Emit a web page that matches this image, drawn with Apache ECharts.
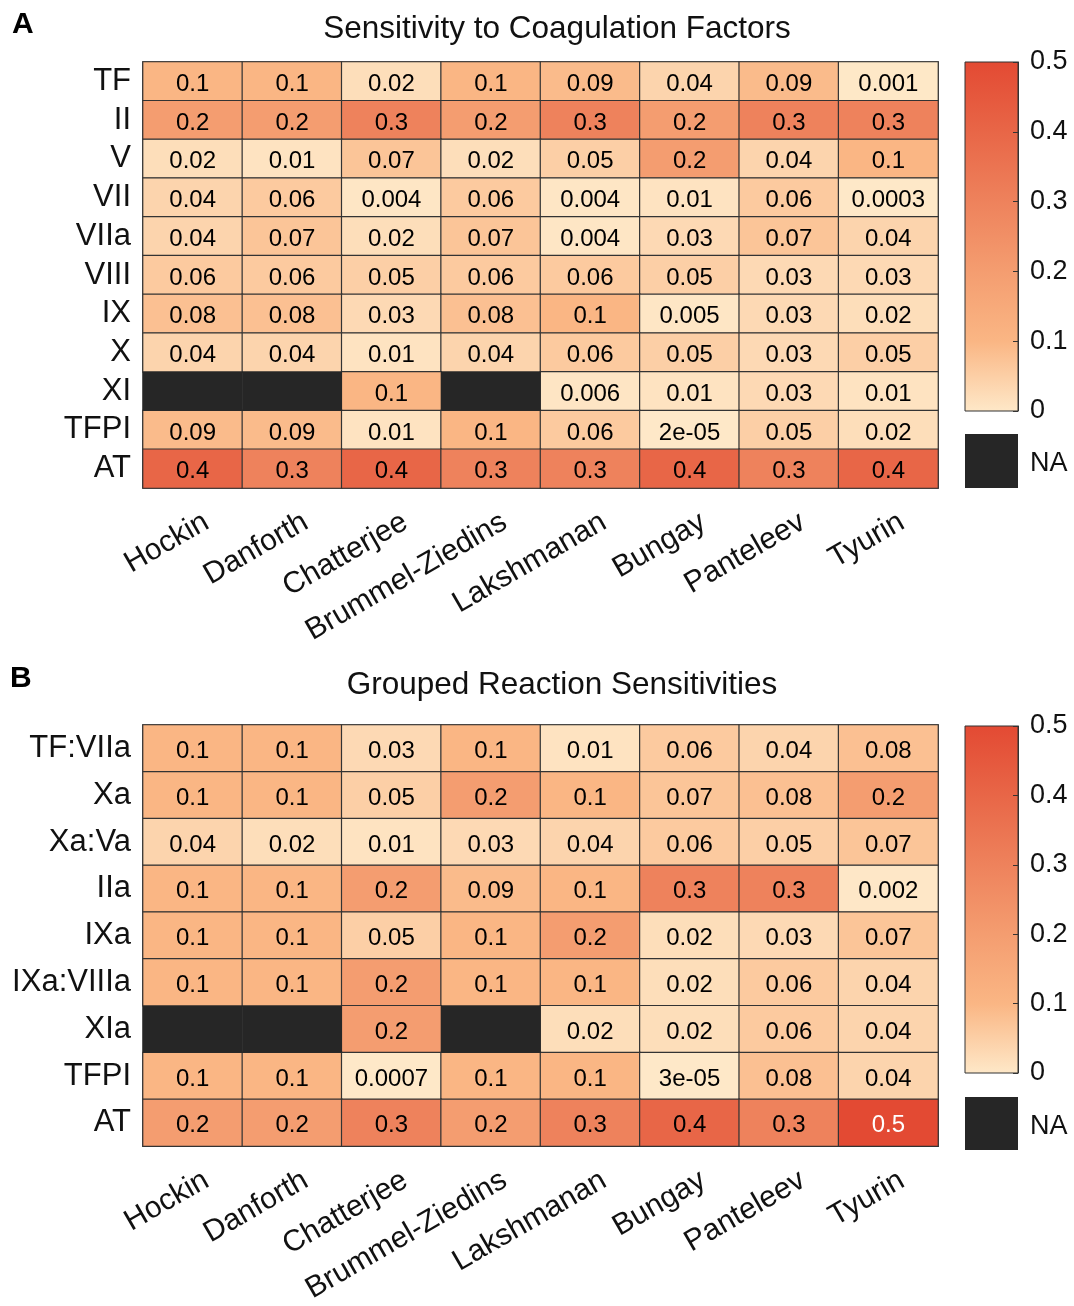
<!DOCTYPE html>
<html>
<head>
<meta charset="utf-8">
<script src="https://cdn.jsdelivr.net/npm/echarts@6/dist/echarts.min.js"></script>
<style>
html,body{margin:0;padding:0;background:#fff;}
#chart{width:1074px;height:1306px;}
</style>
</head>
<body>
<div id="chart"></div>
<script>
// ---------- data ----------
const models = ['Hockin','Danforth','Chatterjee','Brummel-Ziedins','Lakshmanan','Bungay','Panteleev','Tyurin'];

const factorsA = ['TF','II','V','VII','VIIa','VIII','IX','X','XI','TFPI','AT'];
const rowTF   = [0.1, 0.1, 0.02, 0.1, 0.09, 0.04, 0.09, 0.001];
const rowII   = [0.2, 0.2, 0.3, 0.2, 0.3, 0.2, 0.3, 0.3];
const rowV    = [0.02, 0.01, 0.07, 0.02, 0.05, 0.2, 0.04, 0.1];
const rowVII  = [0.04, 0.06, 0.004, 0.06, 0.004, 0.01, 0.06, 0.0003];
const rowVIIa = [0.04, 0.07, 0.02, 0.07, 0.004, 0.03, 0.07, 0.04];
const rowVIII = [0.06, 0.06, 0.05, 0.06, 0.06, 0.05, 0.03, 0.03];
const rowIX   = [0.08, 0.08, 0.03, 0.08, 0.1, 0.005, 0.03, 0.02];
const rowX    = [0.04, 0.04, 0.01, 0.04, 0.06, 0.05, 0.03, 0.05];
const rowXI   = [null, null, 0.1, null, 0.006, 0.01, 0.03, 0.01];
const rowTFPIa= [0.09, 0.09, 0.01, 0.1, 0.06, 2e-5, 0.05, 0.02];
const rowATa  = [0.4, 0.3, 0.4, 0.3, 0.3, 0.4, 0.3, 0.4];
const valuesA = [rowTF,rowII,rowV,rowVII,rowVIIa,rowVIII,rowIX,rowX,rowXI,rowTFPIa,rowATa];

const groupsB = ['TF:VIIa','Xa','Xa:Va','IIa','IXa','IXa:VIIIa','XIa','TFPI','AT'];
const rowTFVIIa = [0.1, 0.1, 0.03, 0.1, 0.01, 0.06, 0.04, 0.08];
const rowXa     = [0.1, 0.1, 0.05, 0.2, 0.1, 0.07, 0.08, 0.2];
const rowXaVa   = [0.04, 0.02, 0.01, 0.03, 0.04, 0.06, 0.05, 0.07];
const rowIIa    = [0.1, 0.1, 0.2, 0.09, 0.1, 0.3, 0.3, 0.002];
const rowIXa    = [0.1, 0.1, 0.05, 0.1, 0.2, 0.02, 0.03, 0.07];
const rowIXaVIIIa=[0.1, 0.1, 0.2, 0.1, 0.1, 0.02, 0.06, 0.04];
const rowXIa    = [null, null, 0.2, null, 0.02, 0.02, 0.06, 0.04];
const rowTFPIb  = [0.1, 0.1, 0.0007, 0.1, 0.1, 3e-5, 0.08, 0.04];
const rowATb    = [0.2, 0.2, 0.3, 0.2, 0.3, 0.4, 0.3, 0.5];
const valuesB = [rowTFVIIa,rowXa,rowXaVa,rowIIa,rowIXa,rowIXaVIIIa,rowXIa,rowTFPIb,rowATb];

const colorbarTicks = [0, 0.1, 0.2, 0.3, 0.4, 0.5];

// ---------- helpers ----------
const cmap = ['#fee8c8','#fab684','#f49d70','#ee825c','#e86647','#e34a33'];
const FONT = '"Liberation Sans", Arial, Helvetica, sans-serif';

function fmt(v){
  if (v < 1e-4) return v.toExponential(0).replace(/e-(\d)$/, 'e-0$1');
  return v.toPrecision(1);
}
function build(values){
  const vals = [], na = [];
  values.forEach((row, r) => row.forEach((v, c) => {
    if (v === null) na.push([c, r, 0]);
    else vals.push({value:[c, r, v], label:{color: v >= 0.45 ? '#ffffff' : '#000000'}});
  }));
  return {vals, na};
}
const A = build(valuesA), B = build(valuesB);

const gridA = {left:143, top:62, width:795, height:426};
const gridB = {left:143, top:725, width:795, height:425};
const cbA = {left:965, top:62, width:53, height:349};
const cbB = {left:965, top:726, width:53, height:347};

const gradient = {type:'linear', x:0, y:1, x2:0, y2:0,
  colorStops: cmap.map((c,i)=>({offset:i/(cmap.length-1), color:c}))};

function xCat(gridIndex){
  return {type:'category', gridIndex, data:models, position:'bottom',
    axisLine:{show:false}, axisTick:{show:false}, splitLine:{show:false},
    axisLabel:{rotate:30, fontSize:30, fontFamily:FONT, color:'#111', margin:40, interval:0,
               padding:[0,-16,0,0]}};
}
function yCat(gridIndex, data){
  return {type:'category', gridIndex, data, inverse:true,
    axisLine:{show:false}, axisTick:{show:false}, splitLine:{show:false},
    axisLabel:{fontSize:31, fontFamily:FONT, color:'#111', margin:12, interval:0, padding:[8,0,0,0]}};
}
function yBar(gridIndex){
  return {type:'value', gridIndex, min:0, max:0.5, interval:0.1, position:'right',
    axisLine:{show:true, onZero:false, lineStyle:{color:'#333', width:1}}, splitLine:{show:false},
    axisTick:{show:true, inside:true, length:5, lineStyle:{color:'#333'}},
    axisLabel:{fontSize:27, fontFamily:FONT, color:'#111', margin:12, padding:[10,0,0,0],
      formatter: v => colorbarTicks.includes(+v.toFixed(1)) ? String(+v.toFixed(1)) : ''}};
}
function heat(xi, yi, data){
  return {type:'heatmap', xAxisIndex:xi, yAxisIndex:yi, data,
    label:{show:true, fontSize:24, fontFamily:FONT, offset:[0,3], formatter: p => fmt(p.value[2])},
    itemStyle:{borderColor:'#333', borderWidth:1.2},
    emphasis:{disabled:true}, progressive:0};
}
function naHeat(xi, yi, data){
  return {type:'heatmap', xAxisIndex:xi, yAxisIndex:yi, data,
    label:{show:false}, itemStyle:{color:'#262626', borderColor:'#262626', borderWidth:0},
    emphasis:{disabled:true}, progressive:0};
}

const chart = echarts.init(document.getElementById('chart'), null, {renderer:'canvas'});
chart.setOption({
  animation:false,
  backgroundColor:'#ffffff',
  textStyle:{fontFamily:FONT},
  grid:[
    Object.assign({show:true, borderColor:'#333', borderWidth:1.5, backgroundColor:'transparent'}, gridA),
    Object.assign({show:true, borderColor:'#333', borderWidth:1.5, backgroundColor:'transparent'}, gridB),
    Object.assign({show:true, borderColor:'#333', borderWidth:1, backgroundColor:gradient}, cbA),
    Object.assign({show:true, borderColor:'#333', borderWidth:1, backgroundColor:gradient}, cbB)
  ],
  xAxis:[
    xCat(0), xCat(1),
    {type:'value', gridIndex:2, show:false, min:0, max:1},
    {type:'value', gridIndex:3, show:false, min:0, max:1}
  ],
  yAxis:[
    yCat(0, factorsA), yCat(1, groupsB), yBar(2), yBar(3)
  ],
  visualMap:[{type:'continuous', show:false, min:0, max:0.5, dimension:2,
    seriesIndex:[0,2], inRange:{color:cmap}}],
  series:[
    heat(0,0,A.vals), naHeat(0,0,A.na),
    heat(1,1,B.vals), naHeat(1,1,B.na)
  ],
  graphic:[
    {type:'text', left:12, top:10, style:{text:'A', font:'bold 30px '+FONT, fill:'#000'}},
    {type:'text', left:10, top:664, style:{text:'B', font:'bold 30px '+FONT, fill:'#000'}},
    {type:'text', x:557, y:29, style:{text:'Sensitivity to Coagulation Factors', font:'31.5px '+FONT,
      fill:'#111', textAlign:'center', textVerticalAlign:'middle'}},
    {type:'text', x:562, y:685, style:{text:'Grouped Reaction Sensitivities', font:'31.5px '+FONT,
      fill:'#111', textAlign:'center', textVerticalAlign:'middle'}},
    {type:'rect', shape:{x:965, y:434, width:53, height:54}, style:{fill:'#262626'}},
    {type:'text', x:1030, y:464, style:{text:'NA', font:'27px '+FONT, fill:'#111', textVerticalAlign:'middle'}},
    {type:'rect', shape:{x:965, y:1097, width:53, height:53}, style:{fill:'#262626'}},
    {type:'text', x:1030, y:1127, style:{text:'NA', font:'27px '+FONT, fill:'#111', textVerticalAlign:'middle'}}
  ]
});
</script>
</body>
</html>
